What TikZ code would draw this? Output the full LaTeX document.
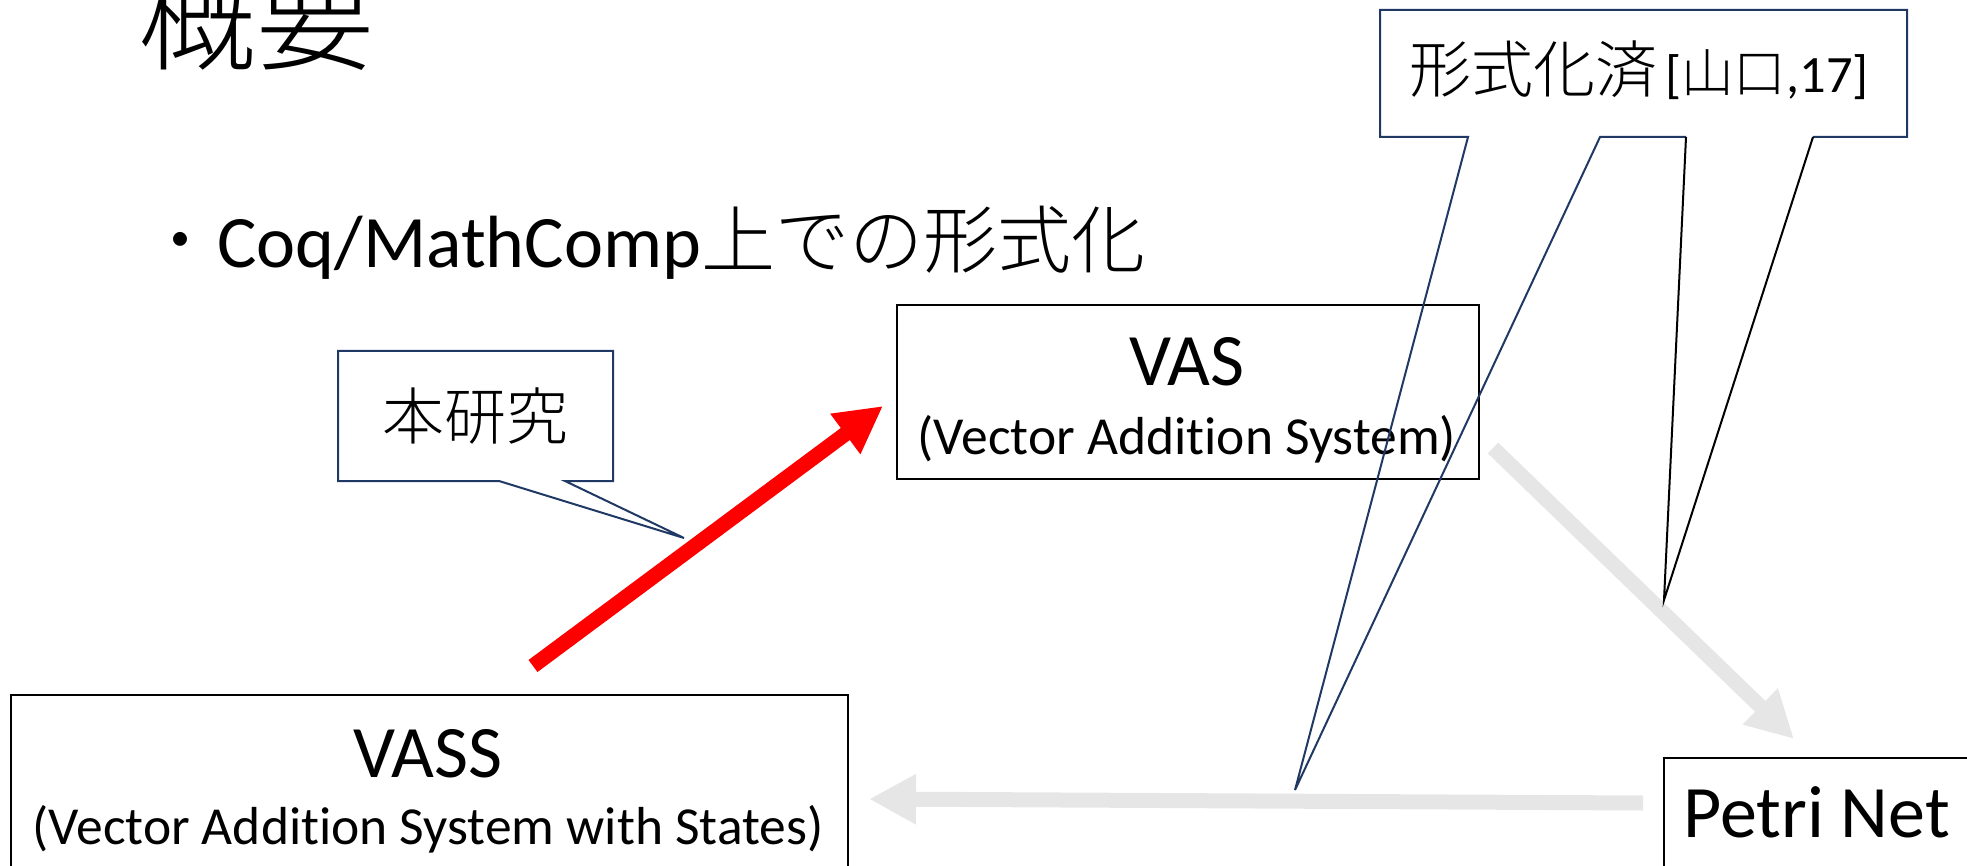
\documentclass[tikz,border=0pt]{standalone}
\usepackage{fontspec}
\setmainfont{Carlito}[Ligatures=NoCommon]
\newfontfamily\cjk{Noto Sans CJK JP Light}
\usetikzlibrary{arrows.meta}
\definecolor{navy}{RGB}{32,56,100}
\definecolor{lgray}{RGB}{231,230,230}
\definecolor{pred}{RGB}{255,0,0}
\tikzset{
  box/.style={draw=black, line width=1.8pt, inner sep=0pt, anchor=north west},
  txt/.style={inner sep=0pt, anchor=base},
  bigarrow/.style={line width=15pt, -{Triangle[length=47pt,width=47pt]}},
  callout/.style={draw=navy, line width=2pt, line join=miter},
  wedge/.style={draw=black, line width=2pt, line join=miter},
}
\begin{document}
\begin{tikzpicture}[x=1pt,y=-1pt]
\useasboundingbox (0,0) rectangle (1967,866);
\clip (0,0) rectangle (1967,866);
% title and bullet
\node[anchor=base west, inner sep=0pt] (title) at (138,62) {\fontsize{118}{118}\selectfont\cjk 概要};
\node[anchor=base west, inner sep=0pt] (bullet) at (143,268) {\fontsize{74}{74}\selectfont{\cjk ・}Coq/MathComp{\cjk 上での形式化}};
% boxes
\node[box, minimum width=582pt, minimum height=174pt] (vas) at (896,304) {};
\node[txt] (vasT) at (1187,385) {\fontsize{74}{74}\selectfont VAS};
\node[txt] (vasS) at (1187,454) {\fontsize{53.5}{54}\selectfont (Vector Addition System)};
\node[box, minimum width=837pt, minimum height=300pt] (vass) at (10,694) {};
\node[txt] (vassT) at (428,777) {\fontsize{74}{74}\selectfont VASS};
\node[txt] (vassS) at (428,844) {\fontsize{53.5}{54}\selectfont (Vector Addition System with States)};
\node[box, minimum width=400pt, minimum height=200pt] (petri) at (1663,757) {};
\node[anchor=base west, inner sep=0pt] (petriT) at (1683,837) {\fontsize{74}{74}\selectfont Petri Net};
% arrows
\coordinate (g1s) at (1493,448);
\coordinate (g1e) at (1794,739);
\coordinate (g2s) at (1643,803);
\coordinate (g2e) at (869,799);
\coordinate (rs) at (533,666);
\coordinate (re) at (883,406);
\draw[bigarrow, lgray] (g1s) -- (g1e);
\draw[bigarrow, lgray] (g2s) -- (g2e);
\draw[bigarrow, pred] (rs) -- (re);
% callout: this research
\draw[callout] (565,481) -- (613,481) -- (613,351) -- (338,351) -- (338,481) -- (499,481) -- (684,538) -- cycle;
\node[inner sep=0pt] (hon) at (475,416) {\fontsize{62}{62}\selectfont\cjk 本研究};
% callout: formalized
\draw[callout] (1686,137) -- (1600,137) -- (1295,790) -- (1468,137) -- (1380,137) -- (1380,10) -- (1907,10) -- (1907,137) -- (1813,137);
\draw[wedge] (1686,137) -- (1664,600) -- (1813,137);
\node[anchor=base west, inner sep=0pt] (form) at (1409,93) {\fontsize{62}{62}\selectfont{\cjk 形式化済}\kern8pt\fontsize{52.5}{53}\selectfont[{\cjk 山口},17]};
\end{tikzpicture}
\end{document}
